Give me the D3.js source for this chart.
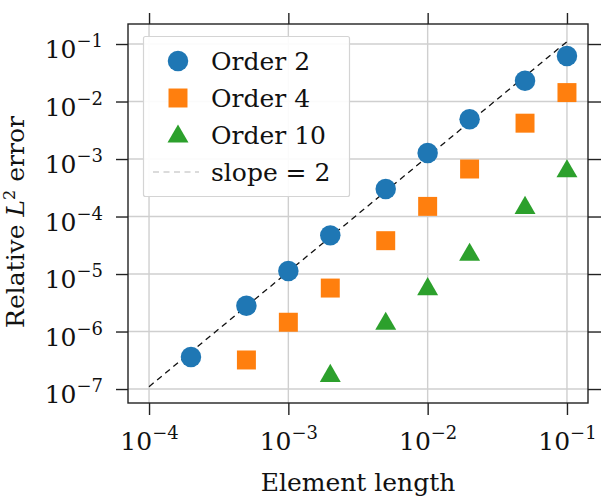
<!DOCTYPE html>
<html lang="en">
  <head>
    <meta charset="utf-8">
    <title>Convergence plot</title>
    <script type="text/javascript" src="https://cdn.jsdelivr.net/npm/d3@7"></script>
    <style type="text/css">
      body { margin: 0; background: #fff; }
      text { font-family: "DejaVu Serif", serif; fill: #111; }
    </style>
  </head>
  <body>
    <script type="text/javascript">

      //Width and height
      var w = 612;
      var h = 496;

      //Data
      var h2  = [2e-4, 5e-4, 1e-3, 2e-3, 5e-3, 1e-2, 2e-2, 5e-2, 1e-1];
      var e2  = [3.6e-7, 2.8e-6, 1.13e-5, 4.7e-5, 3.0e-4, 1.27e-3, 4.9e-3, 2.3e-2, 6.2e-2];
      var h4  = [5e-4, 1e-3, 2e-3, 5e-3, 1e-2, 2e-2, 5e-2, 1e-1];
      var e4  = [3.2e-7, 1.45e-6, 5.7e-6, 3.8e-5, 1.5e-4, 6.7e-4, 4.2e-3, 1.43e-2];
      var h10 = [2e-3, 5e-3, 1e-2, 2e-2, 5e-2, 1e-1];
      var e10 = [1.8e-7, 1.45e-6, 5.8e-6, 2.3e-5, 1.5e-4, 6.5e-4];
      var slopeH = [1e-4, 1e-1];
      var slopeE = [1.1e-7, 1.1e-1];

      var xTickExp = [-4, -3, -2, -1];
      var yTickExp = [-7, -6, -5, -4, -3, -2, -1];
      var legendLabels = ["Order 2", "Order 4", "Order 10", "slope = 2"];

      var blue = "#1f77b4", orange = "#ff7f0e", green = "#2ca02c";

      //Plot frame (note: "top" is taken by window.top)
      var plotL = 128, plotR = 588, plotT = 24, plotB = 403;

      var x = d3.scaleLog()
                .domain([Math.pow(10, -4.151), Math.pow(10, -0.849)])
                .range([plotL, plotR]);
      var y = d3.scaleLog()
                .domain([Math.pow(10, -7.243), Math.pow(10, -0.652)])
                .range([plotB, plotT]);

      var xTicks = xTickExp.map(function(e) { return Math.pow(10, e); });
      var yTicks = yTickExp.map(function(e) { return Math.pow(10, e); });

      var svg = d3.select("body")
                  .append("svg")
                  .attr("width", w)
                  .attr("height", h);

      //Grid
      svg.append("g").selectAll("line")
         .data(xTicks).enter().append("line")
         .attr("x1", function(d) { return x(d); })
         .attr("x2", function(d) { return x(d); })
         .attr("y1", plotT).attr("y2", plotB)
         .style("stroke", "#cfcfcf").style("stroke-width", 1.4);
      svg.append("g").selectAll("line")
         .data(yTicks).enter().append("line")
         .attr("y1", function(d) { return y(d); })
         .attr("y2", function(d) { return y(d); })
         .attr("x1", plotL).attr("x2", plotR)
         .style("stroke", "#cfcfcf").style("stroke-width", 1.4);

      //Axes with outward ticks on all four sides
      function styleAxis(g) {
        g.select(".domain").remove();
        g.selectAll(".tick line").style("stroke", "#222").style("stroke-width", 1.4);
      }
      function powLabel(sel, exps) {
        sel.selectAll(".tick text")
           .text(null)
           .style("font-size", "25px")
           .each(function(d, i) {
             var t = d3.select(this);
             t.append("tspan").text("10");
             t.append("tspan").attr("dy", -11).style("font-size", "18px").text("\u2212" + Math.abs(exps[i]));
           });
      }

      var gx = svg.append("g")
                  .attr("transform", "translate(0," + plotB + ")")
                  .call(d3.axisBottom(x).tickValues(xTicks).tickSize(12).tickPadding(17))
                  .call(styleAxis);
      gx.attr("font-family", null).attr("font-size", null);
      powLabel(gx, xTickExp);

      svg.append("g")
         .attr("transform", "translate(0," + plotT + ")")
         .call(d3.axisTop(x).tickValues(xTicks).tickSize(11).tickFormat(""))
         .call(styleAxis);

      var gy = svg.append("g")
                  .attr("transform", "translate(" + plotL + ",0)")
                  .call(d3.axisLeft(y).tickValues(yTicks).tickSize(12).tickPadding(13))
                  .call(styleAxis);
      gy.attr("font-family", null).attr("font-size", null);
      powLabel(gy, yTickExp);
      gy.selectAll(".tick text").attr("dy", "0.55em");

      svg.append("g")
         .attr("transform", "translate(" + plotR + ",0)")
         .call(d3.axisRight(y).tickValues(yTicks).tickSize(13).tickFormat(""))
         .call(styleAxis);

      //Frame
      svg.append("rect")
         .attr("x", plotL).attr("y", plotT)
         .attr("width", plotR - plotL).attr("height", plotB - plotT)
         .style("fill", "none").style("stroke", "#222").style("stroke-width", 1.4);

      //Slope line
      var line = d3.line()
                   .x(function(d) { return x(d[0]); })
                   .y(function(d) { return y(d[1]); });
      svg.append("path")
         .datum(d3.zip(slopeH, slopeE))
         .attr("d", line)
         .style("fill", "none").style("stroke", "#111")
         .style("stroke-width", 1.3).style("stroke-dasharray", "6,4.5");

      var sym = {
        circle: d3.symbol().type(d3.symbolCircle).size(330),
        square: d3.symbol().type(d3.symbolSquare).size(360),
        triangle: d3.symbol().type(d3.symbolTriangle).size(190)
      };

      function scatter(hs, es, path, color, dy) {
        svg.append("g").selectAll("path")
           .data(d3.zip(hs, es)).enter().append("path")
           .attr("d", path)
           .attr("transform", function(d) { return "translate(" + x(d[0]) + "," + (y(d[1]) + dy) + ")"; })
           .style("fill", color);
      }
      scatter(h2, e2, sym.circle(), blue, 0);
      scatter(h4, e4, sym.square(), orange, 0);
      scatter(h10, e10, sym.triangle(), green, 1.5);

      //Legend
      var lg = svg.append("g");
      lg.append("rect")
        .attr("x", 143.5).attr("y", 36.5).attr("width", 206).attr("height", 160).attr("rx", 2)
        .style("fill", "#fff").style("fill-opacity", 0.92)
        .style("stroke", "#d4d4d4").style("stroke-width", 1.2);

      var rowY = [61, 98, 135, 172];
      var marks = [[sym.circle(), blue], [sym.square(), orange], [sym.triangle(), green]];
      marks.forEach(function(m, i) {
        lg.append("path").attr("d", m[0])
          .attr("transform", "translate(178," + (rowY[i] + (i == 2 ? 1.5 : 0)) + ")")
          .style("fill", m[1]);
      });
      lg.append("line")
        .attr("x1", 153).attr("x2", 199).attr("y1", rowY[3]).attr("y2", rowY[3])
        .style("stroke", "#d0d0d0").style("stroke-width", 1.4).style("stroke-dasharray", "6,4.5");

      lg.selectAll("text.lab")
        .data(legendLabels).enter().append("text")
        .attr("class", "lab")
        .attr("x", 211)
        .attr("y", function(d, i) { return rowY[i] + 9; })
        .style("font-size", "25px")
        .text(function(d) { return d; });

      //Axis titles
      svg.append("text")
         .attr("x", (plotL + plotR) / 2).attr("y", 491)
         .attr("text-anchor", "middle")
         .style("font-size", "25px")
         .text("Element length");

      var yl = svg.append("text")
                  .attr("transform", "translate(24," + 222 + ") rotate(-90)")
                  .attr("text-anchor", "middle")
                  .style("font-size", "25px");
      yl.append("tspan").text("Relative ");
      yl.append("tspan").style("font-style", "italic").text("L");
      yl.append("tspan").attr("dy", -9).style("font-size", "16px").text("2");
      yl.append("tspan").attr("dy", 9).text(" error");

    </script>
  </body>
</html>
